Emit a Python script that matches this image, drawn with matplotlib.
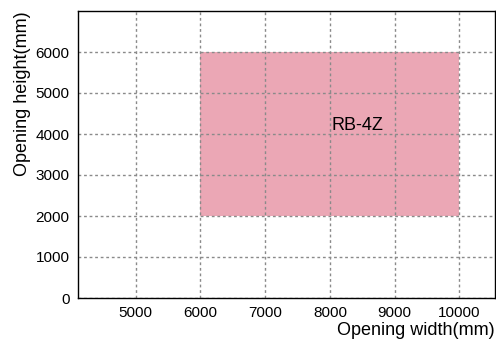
import matplotlib
matplotlib.use('Agg')
import matplotlib.pyplot as plt
from matplotlib.patches import Rectangle

plt.rcParams['font.family'] = ['Liberation Sans', 'DejaVu Sans']

# range of model RB-4Z
name = 'RB-4Z'
width_range = [6000, 10000]
height_range = [2000, 6000]
x_ticks = [5000, 6000, 7000, 8000, 9000, 10000]
y_ticks = [0, 1000, 2000, 3000, 4000, 5000, 6000]

fig = plt.figure(figsize=(4.96, 3.43), dpi=100)
ax = fig.add_axes([78 / 496, 1 - 298 / 343, (495 - 78) / 496, (298 - 11) / 343])

ax.add_patch(Rectangle((width_range[0], height_range[0]),
                       width_range[1] - width_range[0],
                       height_range[1] - height_range[0],
                       facecolor='#eba7b5', edgecolor='none', zorder=1))
ax.text(8430, 4200, name, ha='center', va='center', fontsize=13, zorder=3)

ax.set_xlim(4110, 10550)
ax.set_ylim(0, 7000)
ax.set_xticks(x_ticks)
ax.set_yticks(y_ticks)
ax.tick_params(length=0, labelsize=11, pad=6)
ax.grid(True, linestyle=(0, (2, 2)), color='#8a8a8a', linewidth=1.0, zorder=2)
ax.set_axisbelow(False)
for s in ax.spines.values():
    s.set_linewidth(1.0)
    s.set_zorder(4)

ax.set_xlabel('Opening width(mm)', fontsize=13, loc='right', labelpad=1)
ax.set_ylabel('Opening height(mm)', fontsize=13, loc='top', labelpad=3)

fig.savefig('out.png', dpi=100)
